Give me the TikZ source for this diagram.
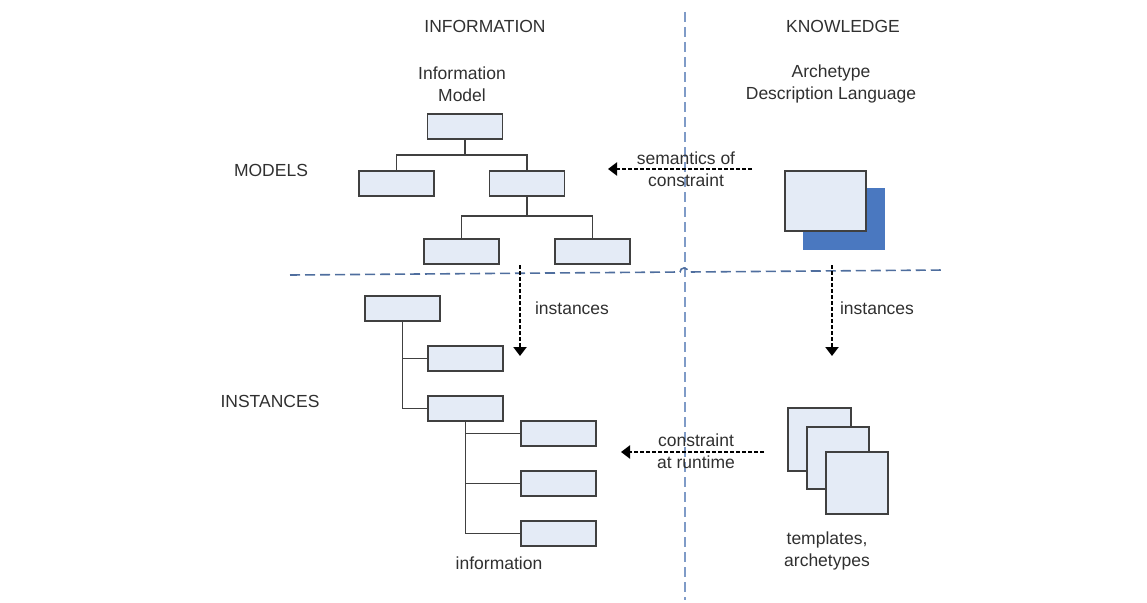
\documentclass[tikz,border=0pt]{standalone}
\usepackage{fontspec}
\setmainfont{Liberation Sans}
\usetikzlibrary{arrows.meta, positioning}
\definecolor{boxfill}{HTML}{E4EBF6}
\definecolor{boxline}{HTML}{404040}
\definecolor{divline}{HTML}{7F9BC7}
\definecolor{divdark}{HTML}{4F6E9E}
\definecolor{shadowblue}{HTML}{4A78C0}
\definecolor{txtgray}{HTML}{303030}
\tikzstyle{item} = [rectangle, minimum width=75pt, minimum height=25pt, inner sep=0pt, draw=boxline, fill=boxfill, line width=1.7pt]
\tikzstyle{doc} = [rectangle, minimum width=62pt, minimum height=62pt, inner sep=0pt, draw=boxline, fill=boxfill, line width=1.7pt]
\tikzstyle{txt} = [inner sep=0pt, text centered, align=center, text=txtgray, font=\fontsize{17.5}{22}\selectfont]
\tikzstyle{divider} = [draw=divline, line width=1.6pt, dash pattern=on 10pt off 5pt]
\tikzstyle{link} = [draw=boxline, line width=1.7pt]
\tikzstyle{dasharrow} = [line width=2.8pt, dash pattern=on 4pt off 2pt, -{Triangle[length=9pt,width=13pt]}]

\begin{document}
\begin{tikzpicture}[x=1pt, y=-1pt]
\useasboundingbox (0,0) rectangle (1147,602);

% dividers
\coordinate (vdiv_n) at (685,12);
\coordinate (vdiv_s) at (685,600);
\coordinate (hdiv_w) at (290,275);
\coordinate (hdiv_e) at (945,270);
\draw [divider] (vdiv_n) -- (vdiv_s);
\draw [divider, draw=divdark] (hdiv_w) -- (680,272) arc[start angle=180, end angle=360, radius=4] -- (hdiv_e);

% headings
\node (head_info) [txt] at (485,26) {INFORMATION};
\node (head_know) [txt] at (843,26) {KNOWLEDGE};
\node (row_models) [txt] at (271,170) {MODELS};
\node (row_inst) [txt] at (270,401) {INSTANCES};

% information model
\node (im_title) [txt] at (462,84) {Information\\ Model};
\node (im_root) [item] at (465,126.5) {};
\node (im_left) [item] at (396.5,183.5) {};
\node (im_right) [item] at (527,183.5) {};
\node (im_bl) [item] at (461.5,251.5) {};
\node (im_br) [item] at (592.5,251.5) {};

\draw [link] (im_root.south) -- ++(0,15) -| (im_left.north);
\draw [link] (im_root.south) -- ++(0,15) -| (im_right.north);
\draw [link] (im_right.south) -- ++(0,19) -| (im_bl.north);
\draw [link] (im_right.south) -- ++(0,19) -| (im_br.north);

% archetype description language
\node (adl_title) [txt] at (831,84) {Archetype\\ Description Language};
\node (adl_shadow) [rectangle, minimum width=82pt, minimum height=62pt, fill=shadowblue] at (844,219) {};
\node (adl) [item, minimum width=81pt, minimum height=60pt] at (825.5,201) {};

% instances
\node (inst_root) [item] at (402.5,308.5) {};
\node (inst_a) [item] at (465.5,358.5) {};
\node (inst_b) [item] at (465.5,408.5) {};
\node (inst_c) [item] at (558.5,433.5) {};
\node (inst_d) [item] at (558.5,483.5) {};
\node (inst_e) [item] at (558.5,533.5) {};
\node (inf_label) [txt] at (499,563) {information};

\draw [link] (inst_root.south) |- (inst_a.west);
\draw [link] (inst_root.south) |- (inst_b.west);
\draw [link] (inst_b.south) |- (inst_c.west);
\draw [link] (inst_b.south) |- (inst_d.west);
\draw [link] (inst_b.south) |- (inst_e.west);

% templates
\node (tpl_a) [doc, minimum width=63pt, minimum height=63pt] at (819.5,439.5) {};
\node (tpl_b) [doc] at (838,458) {};
\node (tpl_c) [doc] at (857,483) {};
\node (tpl_label) [txt] at (827,551) {templates,\\ archetypes};

% dashed arrows
\coordinate (sem_from) at (752,169);
\coordinate (sem_to) at (608,169);
\coordinate (rt_from) at (764,452);
\coordinate (rt_to) at (621,452);
\coordinate (il_from) at (520,265);
\coordinate (il_to) at (520,356);
\coordinate (ir_from) at (832,265);
\coordinate (ir_to) at (832,356);

\draw [dasharrow] (sem_from) -- (sem_to);
\draw [dasharrow] (rt_from) -- (rt_to);
\draw [dasharrow] (il_from) -- (il_to);
\draw [dasharrow] (ir_from) -- (ir_to);

\node (sem_label) [txt] at (686,169) {semantics of\\ constraint};
\node (rt_label) [txt] at (696,451) {constraint\\ at runtime};
\node (il_label) [txt] at (572,308) {instances};
\node (ir_label) [txt] at (877,308) {instances};

\end{tikzpicture}
\end{document}
